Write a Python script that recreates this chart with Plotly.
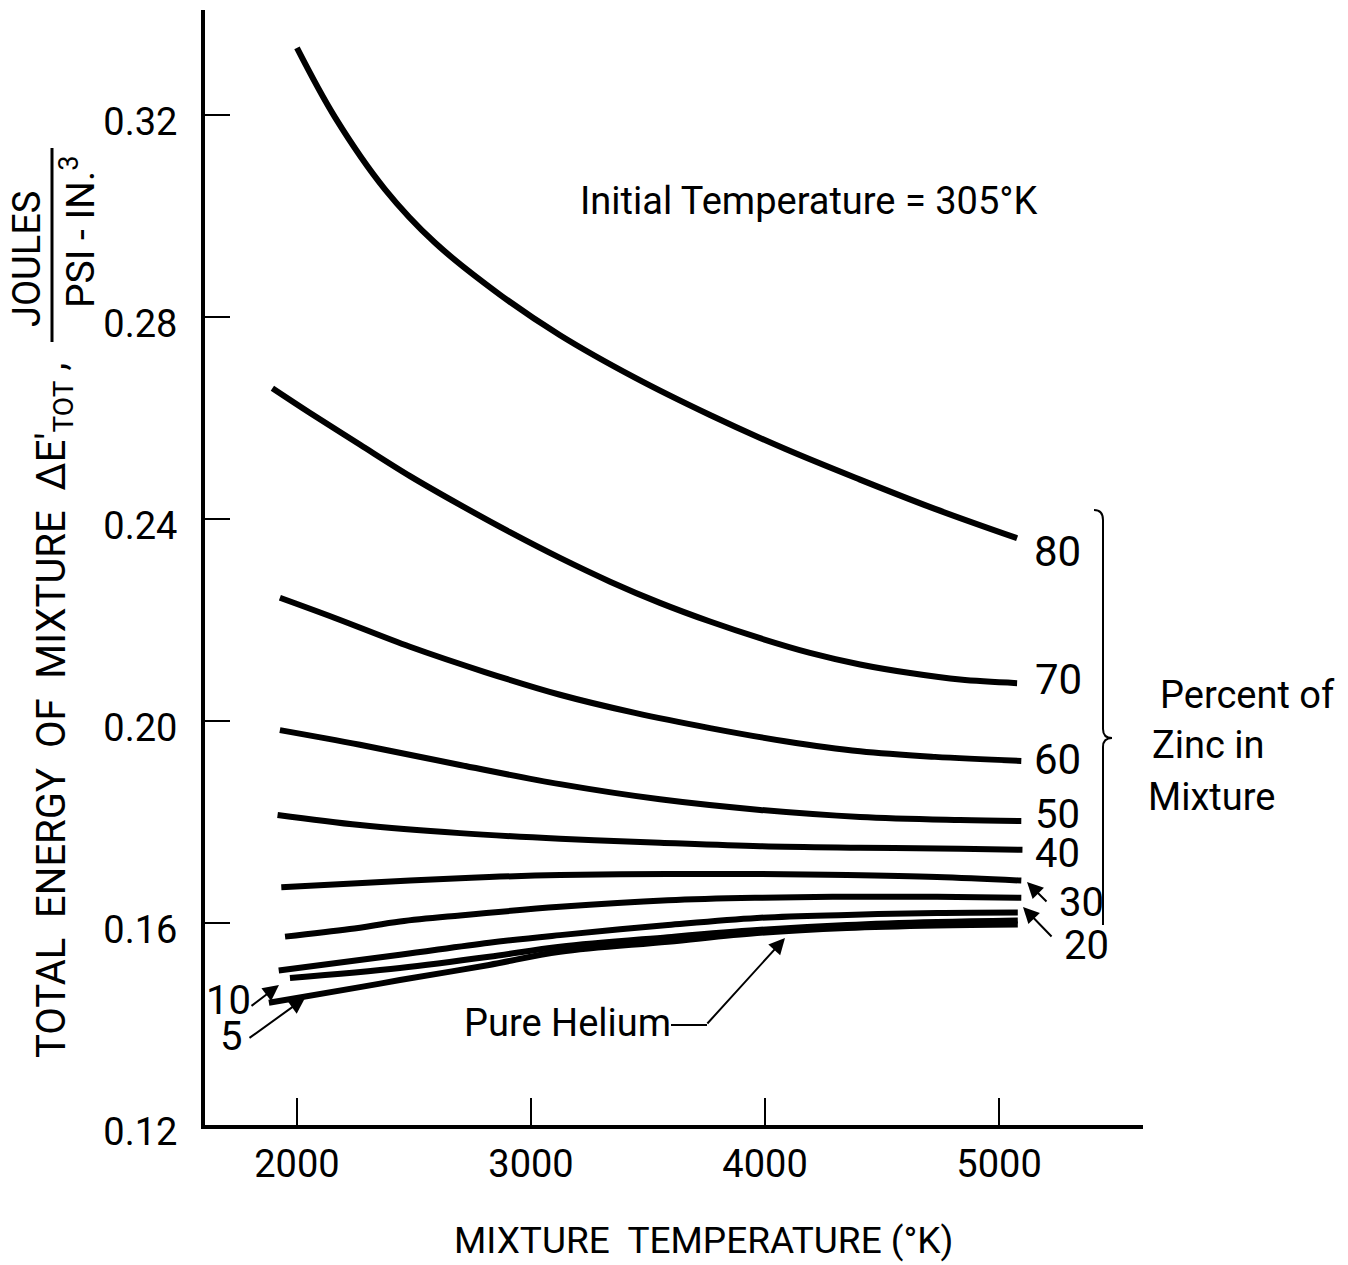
import plotly.graph_objects as go

# ---------------- data ----------------
# mixture temperature (K) and total energy (J / psi-in^3) per curve
t80 = [2000, 2162, 2376, 2590, 2868, 3124, 3444, 3765, 4085, 4406, 4726, 5077]
e80 = [0.3333, 0.3196, 0.3053, 0.2947, 0.2844, 0.2764, 0.2680, 0.2606, 0.2539, 0.2478, 0.2420, 0.2362]

t70 = [1895, 2056, 2270, 2483, 2697, 2910, 3124, 3338, 3551, 3765, 3979, 4192, 4406, 4620, 4833, 5077]
e70 = [0.2659, 0.2610, 0.2547, 0.2485, 0.2428, 0.2374, 0.2323, 0.2276, 0.2234, 0.2197, 0.2164, 0.2135, 0.2112, 0.2095, 0.2082, 0.2075]

t60 = [1927, 2162, 2483, 2803, 3124, 3444, 3765, 4085, 4406, 4726, 5095]
e60 = [0.2244, 0.2204, 0.2147, 0.2097, 0.2052, 0.2016, 0.1986, 0.1960, 0.1940, 0.1929, 0.1921]

t50 = [1927, 2269, 2697, 3124, 3551, 3979, 4406, 4833, 5095]
e50 = [0.1982, 0.1953, 0.1913, 0.1875, 0.1845, 0.1824, 0.1810, 0.1804, 0.1802]

t40 = [1917, 2269, 2697, 3124, 3551, 3979, 4406, 4833, 5100]
e40 = [0.1814, 0.1794, 0.1778, 0.1767, 0.1759, 0.1752, 0.1749, 0.1747, 0.1745]

t30 = [1933, 2483, 2821, 3124, 3585, 3966, 4350, 4735, 5095]
e30 = [0.1671, 0.1684, 0.1691, 0.1695, 0.1697, 0.1697, 0.1695, 0.1691, 0.1684]

t20 = [1949, 2226, 2440, 2697, 3124, 3585, 3966, 4350, 4735, 5095]
e20 = [0.1573, 0.1588, 0.1603, 0.1615, 0.1632, 0.1645, 0.1650, 0.1652, 0.1652, 0.1650]

t10 = [1922, 2440, 2821, 3124, 3585, 3966, 4350, 4735, 5080]
e10 = [0.1506, 0.1537, 0.1561, 0.1576, 0.1596, 0.1610, 0.1616, 0.1620, 0.1621]

t5 = [1970, 2440, 2821, 3124, 3585, 3966, 4350, 4735, 5080]
e5 = [0.1491, 0.1511, 0.1533, 0.1553, 0.1572, 0.1586, 0.1596, 0.1602, 0.1605]

tHe = [1880, 2269, 2440, 2821, 3124, 3585, 3966, 4350, 4735, 5080]
eHe = [0.1442, 0.1473, 0.1487, 0.1517, 0.1543, 0.1563, 0.1580, 0.1590, 0.1595, 0.1597]

x_ticks = [2000, 3000, 4000, 5000]
y_ticks = [0.12, 0.16, 0.20, 0.24, 0.28, 0.32]
x_range = [1607, 5615]
y_range = [0.12, 0.3408]

curves = [
    ("80", t80, e80), ("70", t70, e70), ("60", t60, e60), ("50", t50, e50),
    ("40", t40, e40), ("30", t30, e30), ("20", t20, e20), ("10", t10, e10),
    ("5", t5, e5), ("Pure Helium", tHe, eHe),
]

# ---------------- layout geometry ----------------
W, H = 1348, 1265
L, R, T, B = 205, 1143, 10, 1125
FONT = "Roboto, Liberation Sans, sans-serif"


def px(xp):
    return (xp - L) / (R - L)


def py(yp):
    return (B - yp) / (B - T)


fig = go.Figure()
for name, tx, ey in curves:
    fig.add_trace(go.Scatter(
        x=tx, y=ey, mode="lines", name=name,
        line=dict(color="black", width=6, shape="spline", smoothing=1.0),
        showlegend=False, hoverinfo="skip",
    ))

ann = []


def text(s, xp, yp, size=40, angle=0, xanchor="center", yanchor="middle"):
    ann.append(dict(text=s, x=px(xp), y=py(yp), xref="paper", yref="paper",
                    showarrow=False, textangle=angle, xanchor=xanchor, yanchor=yanchor,
                    font=dict(family=FONT, size=size, color="black")))


def arrow(tip, tail):
    ann.append(dict(text="", x=px(tip[0]), y=py(tip[1]), xref="paper", yref="paper",
                    ax=tail[0] - tip[0], ay=tail[1] - tip[1], showarrow=True,
                    arrowhead=2, arrowsize=1.6, arrowwidth=2, arrowcolor="black",
                    standoff=0, startstandoff=0))


# curve labels
text("80", 1057, 551, 42)
text("70", 1058, 679, 42)
text("60", 1057, 760, 42)
text("50", 1057, 814, 40)
text("40", 1057, 853, 40)
text("30", 1081, 902, 40)
text("20", 1086, 945, 40)
text("10", 228, 1000, 40)
text("5", 231, 1036, 40)
text("Pure Helium", 567, 1023, 38)
arrow((1027, 882), (1048, 903))
arrow((1023, 907), (1053, 938))
arrow((279, 985), (250, 1007))
arrow((305, 998), (248, 1039))
arrow((785, 938), (706, 1025))

text("Initial Temperature = 305°K", 808, 201, 38)
text("Percent of", 1158, 695, 38, xanchor="left")
text("Zinc in", 1150, 745, 38, xanchor="left")
text("Mixture", 1146, 797, 38, xanchor="left")

# axis titles
text("MIXTURE  TEMPERATURE (°K)", 703, 1240, 37)
text("TOTAL  ENERGY  OF  MIXTURE  ΔE'<sub>TOT</sub> ,", 54, 711, 40, angle=-90)
text("JOULES", 27, 259, 38, angle=-90)
text("PSI - IN.<sup>3</sup>", 79, 232, 39, angle=-90)

shapes = [
    # fraction bar of the y-axis unit
    dict(type="line", xref="paper", yref="paper", x0=px(52), x1=px(52), y0=py(148), y1=py(342),
         line=dict(color="black", width=3)),
    # leader line of "Pure Helium"
    dict(type="line", xref="paper", yref="paper", x0=px(671), x1=px(707), y0=py(1025), y1=py(1025),
         line=dict(color="black", width=2)),
    # brace grouping the zinc percentages
    dict(type="path", xref="paper", yref="paper",
         path=(f"M {px(1094)},{py(510)} Q {px(1103)},{py(510)} {px(1103)},{py(520)} "
               f"L {px(1103)},{py(729)} Q {px(1103)},{py(738)} {px(1112)},{py(738)} "
               f"Q {px(1103)},{py(738)} {px(1103)},{py(747)} L {px(1103)},{py(925)}"),
         line=dict(color="black", width=2)),
]

fig.update_layout(
    width=W, height=H,
    margin=dict(l=L, r=W - R, t=T, b=H - B, pad=0),
    plot_bgcolor="white", paper_bgcolor="white",
    annotations=ann, shapes=shapes,
    font=dict(family=FONT, color="black"),
)
fig.update_xaxes(
    range=x_range, tickvals=x_ticks, ticktext=[str(v) for v in x_ticks],
    ticks="inside", ticklen=27, tickwidth=2, tickcolor="black",
    showline=True, linewidth=4, linecolor="black", mirror=False,
    showgrid=False, zeroline=False,
    tickfont=dict(family=FONT, size=38, color="black"),
    ticklabelstandoff=2,
)
fig.update_yaxes(
    range=y_range, tickvals=y_ticks, ticktext=[f"{v:.2f}" for v in y_ticks],
    ticks="inside", ticklen=25, tickwidth=2, tickcolor="black",
    showline=True, linewidth=4, linecolor="black", mirror=False,
    showgrid=False, zeroline=False,
    tickfont=dict(family=FONT, size=38, color="black"),
    ticklabelstandoff=16, ticklabelshift=7,
)

fig.write_html("out.html", config={"displayModeBar": False},
               post_script="document.body.style.margin='0';")
